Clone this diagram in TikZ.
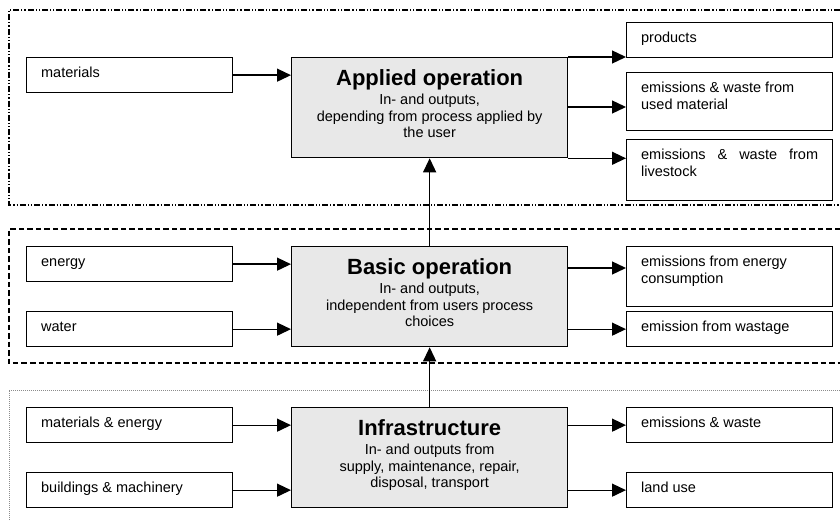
\documentclass[tikz,border=0pt]{standalone}
\usepackage{fontspec}
\setmainfont{Liberation Sans}
\usetikzlibrary{arrows.meta}
\definecolor{boxgray}{HTML}{E8E8E8}
\definecolor{dotgray}{HTML}{8C8C8C}
\newcommand\smallfont{\fontsize{14.5}{17}\selectfont}
\newcommand\myboxtext[2]{\parbox[c][#1][t]{177pt}{\raggedright\rule{0pt}{20pt}#2}}
\newcommand\mymaintext[2]{\parbox[c][100pt][t]{270pt}{\centering\rule{0pt}{27.5pt}{\fontsize{22}{24}\selectfont\bfseries #1}\par\vspace{3pt}\fontsize{14.5}{16.5}\selectfont #2\par}}
\begin{document}
\begin{tikzpicture}[x=1pt,y=1pt,
  sbox/.style={draw=black, line width=1.3pt, inner xsep=14.5pt, inner ysep=0pt, anchor=north west, font=\smallfont},
  mbox/.style={draw=black, fill=boxgray, line width=1.3pt, inner xsep=3pt, inner ysep=0pt, anchor=north west},
  arr/.style={-{Triangle[length=14pt,width=13pt]}, line width=1.3pt},
  frameA/.style={line width=1.5pt, dash pattern=on 6pt off 2pt on 1.2pt off 2pt on 1.2pt off 2pt},
  frameB/.style={line width=1.5pt, dash pattern=on 5.5pt off 3pt},
  frameC/.style={line width=0.8pt, draw=dotgray, dash pattern=on 0.8pt off 1.2pt}
]
\useasboundingbox (0,0) rectangle (840,-521);

% group frames
\draw[frameA] (840,-10) -| (9,-205) -- (840,-205);
\draw[frameB] (840,-229) -| (9,-363) -- (840,-363);
\draw[frameC] (840,-390) -| (9,-521);

% main boxes
\node[mbox] (applied) at (291,-57) {\mymaintext{Applied operation}{In- and outputs,\\ depending from process applied by\\ the user}};
\node[mbox] (basic) at (291,-246) {\mymaintext{Basic operation}{In- and outputs,\\ independent from users process\\ choices}};
\node[mbox] (infra) at (291,-407) {\mymaintext{Infrastructure}{In- and outputs from\\ supply, maintenance, repair,\\ disposal, transport}};

% input boxes
\node[sbox] (mat) at (26,-57) {\myboxtext{35pt}{materials}};
\node[sbox] (energy) at (26,-246) {\myboxtext{35pt}{energy}};
\node[sbox] (water) at (26,-311) {\myboxtext{35pt}{water}};
\node[sbox] (matenergy) at (26,-407) {\myboxtext{35pt}{materials \& energy}};
\node[sbox] (build) at (26,-472) {\myboxtext{35pt}{buildings \& machinery}};

% output boxes
\node[sbox] (products) at (626,-22) {\myboxtext{35pt}{products}};
\node[sbox] (usedmat) at (626,-72) {\myboxtext{58pt}{emissions \& waste from\\ used material}};
\node[sbox] (livestock) at (626,-139) {\myboxtext{61pt}{emissions\hfill\&\hfill waste\hfill from\\ livestock}};
\node[sbox] (energycons) at (626,-246) {\myboxtext{60pt}{emissions from energy\\ consumption}};
\node[sbox] (wastage) at (626,-311) {\myboxtext{35pt}{emission from wastage}};
\node[sbox] (emwaste) at (626,-407) {\myboxtext{35pt}{emissions \& waste}};
\node[sbox] (landuse) at (626,-472) {\myboxtext{35pt}{land use}};

% input arrows
\draw[arr] (mat.east) -- (mat.east -| applied.west);
\draw[arr] (energy.east) -- (energy.east -| basic.west);
\draw[arr] (water.east) -- (water.east -| basic.west);
\draw[arr] (matenergy.east) -- (matenergy.east -| infra.west);
\draw[arr] (build.east) -- (build.east -| infra.west);

% output arrows
\draw[arr] (applied.north east) -- (applied.north east -| products.west);
\draw[arr] ([yshift=-50pt]applied.north east) -- ([yshift=-50pt]applied.north east -| usedmat.west);
\draw[arr] (applied.south east) -- (applied.south east -| livestock.west);
\draw[arr] ([yshift=-22pt]basic.north east) -- ([yshift=-22pt]basic.north east -| energycons.west);
\draw[arr] (wastage.west -| basic.east) -- (wastage.west);
\draw[arr] (emwaste.west -| infra.east) -- (emwaste.west);
\draw[arr] (landuse.west -| infra.east) -- (landuse.west);

% vertical arrows
\draw[arr] (basic.north) -- (applied.south);
\draw[arr] (infra.north) -- (basic.south);
\end{tikzpicture}
\end{document}
